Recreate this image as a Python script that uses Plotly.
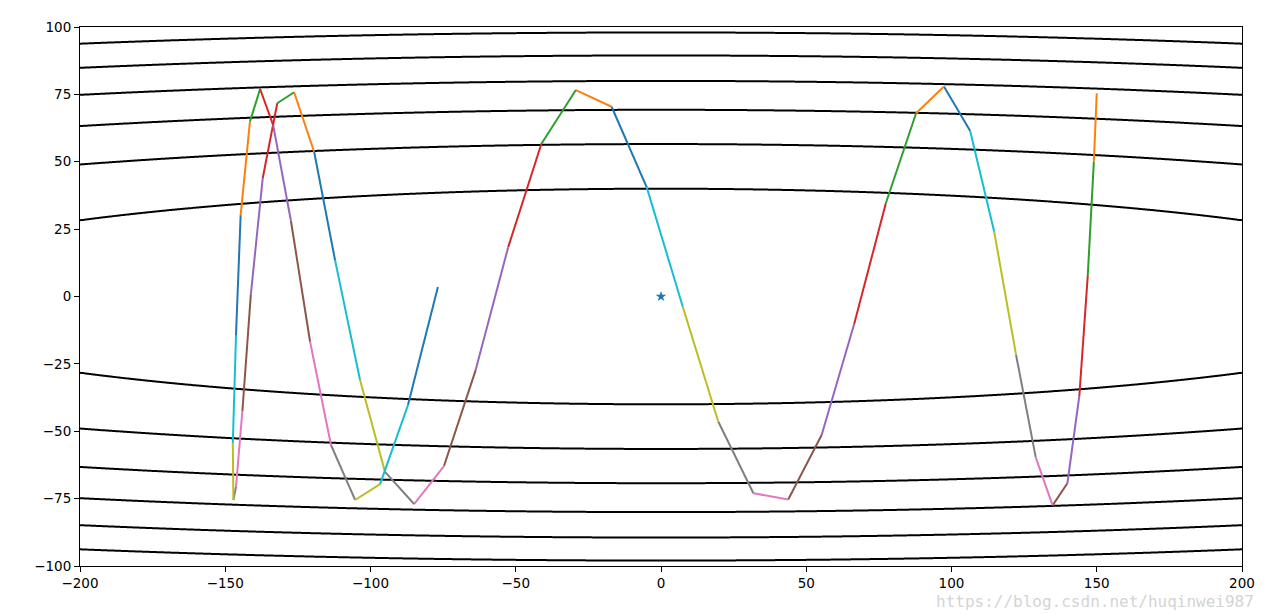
import numpy as np
import plotly.graph_objects as go

# Path points, in drawing order
path_x = [150.0, 149.0, 146.9, 144.0, 139.9, 134.8, 129.0, 122.2, 114.7, 106.4,
          97.4, 87.8, 77.4, 66.5, 55.3, 43.8, 31.8, 19.7, 7.5, -4.9,
          -17.0, -29.3, -41.2, -52.6, -63.8, -74.7, -85.0, -95.0, -103.6, -112.2,
          -119.4, -126.3, -132.1, -137.1, -141.2, -144.1, -146.3, -147.2, -147.4, -146.3,
          -144.7, -141.5, -138.0, -133.5, -127.4, -120.8, -113.6, -105.3, -96.7, -87.1,
          -76.8]
path_y = [75.4, 50.0, 7.6, -36.9, -69.3, -77.5, -59.7, -21.5, 24.0, 61.5,
          77.9, 68.0, 34.6, -10.2, -51.4, -75.3, -73.0, -46.4, -3.8, 40.5,
          70.4, 76.6, 56.6, 18.3, -27.3, -62.9, -77.0, -65.1, -31.0, 13.5,
          53.7, 75.8, 71.7, 43.9, 0.6, -42.5, -70.6, -75.5, -54.5, -14.3,
          30.2, 64.9, 77.0, 63.6, 28.1, -16.8, -55.1, -75.5, -69.6, -40.3,
          3.5]

# Contour field parameters: f(x, y) = x^2 / x_scale + y^2
x_scale = 50.0
levels_start, levels_end, levels_step = 1600, 9600, 1600

x_ticks = [-200, -150, -100, -50, 0, 50, 100, 150, 200]
y_ticks = [-100, -75, -50, -25, 0, 25, 50, 75, 100]

tab10 = ['#1f77b4', '#ff7f0e', '#2ca02c', '#d62728', '#9467bd',
         '#8c564b', '#e377c2', '#7f7f7f', '#bcbd22', '#17becf']

gx = np.linspace(-200, 200, 801)
gy = np.linspace(-100, 100, 401)
GX, GY = np.meshgrid(gx, gy)
Z = GX ** 2 / x_scale + GY ** 2

fig = go.Figure()
fig.add_trace(go.Contour(
    x=gx, y=gy, z=Z,
    contours=dict(start=levels_start, end=levels_end, size=levels_step, coloring='lines'),
    colorscale=[[0, 'black'], [1, 'black']],
    line=dict(width=2),
    showscale=False, hoverinfo='skip'))

fig.add_trace(go.Scatter(x=[0], y=[0], mode='markers',
                         marker=dict(symbol='star', size=8, color=tab10[0]),
                         showlegend=False))

for i in range(len(path_x) - 1):
    fig.add_trace(go.Scatter(
        x=path_x[i:i + 2], y=path_y[i:i + 2], mode='lines',
        line=dict(color=tab10[(i + 1) % 10], width=2),
        showlegend=False))

axis_common = dict(showgrid=False, zeroline=False, showline=True, mirror=True,
                   linecolor='black', linewidth=1, ticks='outside', ticklen=5,
                   tickcolor='black', tickfont=dict(size=13.5, color='black'))

fig.update_layout(
    width=1260, height=606,
    margin=dict(l=72, r=26, t=19, b=48),
    paper_bgcolor='white', plot_bgcolor='white',
    font=dict(family='DejaVu Sans', size=13.5, color='black'),
    showlegend=False,
    xaxis=dict(range=[-200, 200], tickvals=x_ticks, **axis_common),
    yaxis=dict(range=[-100, 100], tickvals=y_ticks, **axis_common),
    annotations=[dict(text='https://blog.csdn.net/huqinwei987', xref='paper', yref='paper',
                      x=1.012, y=-0.065, xanchor='right', yanchor='middle', showarrow=False,
                      font=dict(family='DejaVu Sans Mono', size=16, color='#d4d4d4'))]
)

fig.write_html("out.html")
